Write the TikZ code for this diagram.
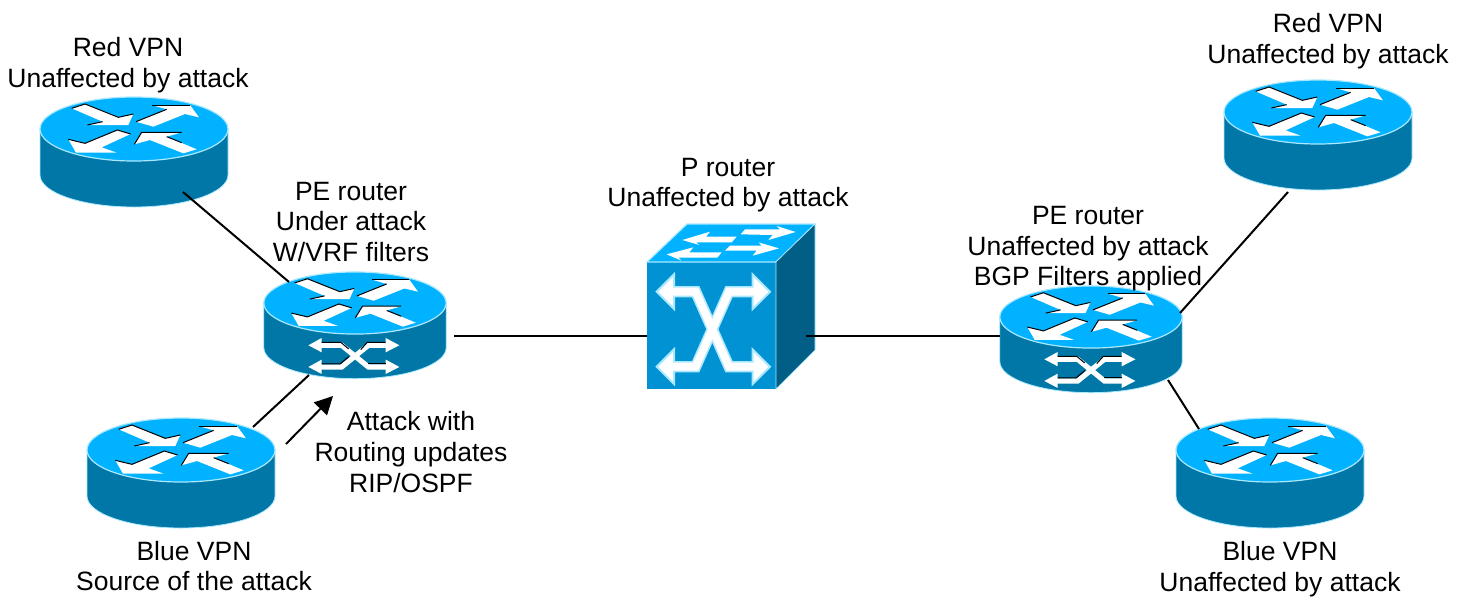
\documentclass[tikz,border=0pt]{standalone}
\usepackage{fontspec}
\setmainfont{Liberation Sans}
\usetikzlibrary{arrows.meta}
\definecolor{rtop}{RGB}{0,178,255}
\definecolor{rside}{RGB}{0,119,166}
\definecolor{sfront}{RGB}{0,146,210}
\definecolor{sright}{RGB}{0,94,135}
\definecolor{pale}{RGB}{170,232,255}
\tikzset{
  lbl/.style={font=\fontsize{13.25}{15.3}\selectfont,align=center,inner sep=0pt,text=black},
  link/.style={draw=black,line width=1pt},
  hit/.style={inner sep=0pt,minimum width=94pt,minimum height=55pt},
  wh/.style={fill=white,draw=none},
  edgeb/.style={draw=black,line width=0.5pt},
}
\newcommand{\routerbase}[3]{%
 \begin{scope}[shift={(#1,#2)},scale=#3]
  \filldraw[fill=rside,draw=pale,line width=0.4pt] (-94,0) -- (-94,46) arc[start angle=180,end angle=0,x radius=94,y radius=32] -- (94,0) -- cycle;
  \filldraw[fill=rtop,draw=pale,line width=0.6pt] (0,0) ellipse [x radius=94,y radius=32];
  \begin{scope}[shift={(-104,-39)},scale=1/3]
   \fill[wh] (125,55) -- (165,42) -- (265,82) -- (310,72) -- (295,105) -- (172,105) -- (218,95) -- cycle;
   \draw[edgeb] (125,55) -- (165,42) -- (265,82) -- (310,72);
   \draw[edgeb] (172,105) -- (218,95);
   \fill[wh] (318,95) -- (410,58) -- (365,45) -- (480,45) -- (507,82) -- (465,72) -- (370,110) -- cycle;
   \draw[edgeb] (318,95) -- (410,58);
   \draw[edgeb] (365,45) -- (480,45);
   \fill[wh] (302,132) -- (262,120) -- (165,160) -- (115,148) -- (138,188) -- (260,188) -- (215,172) -- cycle;
   \draw[edgeb] (302,132) -- (262,120) -- (165,160) -- (115,148);
   \fill[wh] (500,178) -- (410,140) -- (455,127) -- (335,127) -- (313,163) -- (360,150) -- (460,190) -- cycle;
   \draw[edgeb] (455,127) -- (335,127) -- (313,163);
   \draw[edgeb] (410,140) -- (455,158);
  \end{scope}
 \end{scope}}
\newcommand{\routercross}[3]{%
 \begin{scope}[shift={(#1,#2)},scale=#3]
  \begin{scope}[shift={(-118.5,-44.7)},scale=0.3436]
   \draw[white,line width=2.6pt,line join=miter] (240,257) -- (305,257) -- (385,322) -- (440,322);
   \draw[white,line width=2.6pt,line join=miter] (240,322) -- (305,322) -- (385,257) -- (440,257);
   \fill[wh] (205,257) -- (245,235) -- (245,278) -- cycle;
   \fill[wh] (205,322) -- (245,300) -- (245,343) -- cycle;
   \fill[wh] (478,257) -- (437,235) -- (437,278) -- cycle;
   \fill[wh] (478,322) -- (437,300) -- (437,343) -- cycle;
   \draw[edgeb] (245,248) -- (302,248) -- (326,268);
   \draw[edgeb] (245,313) -- (300,313) -- (326,291);
   \draw[edgeb] (362,270) -- (382,248) -- (437,248);
   \draw[edgeb] (385,313) -- (437,313);
  \end{scope}
 \end{scope}}
\begin{document}
\begin{tikzpicture}[x=0.5pt,y=-0.5pt]
\useasboundingbox (0,0) rectangle (1466,596);
% routers
\routerbase{134}{129}{1}
\routerbase{1318}{112}{1}
\routerbase{181}{450}{1}
\routerbase{1270}{450}{1}
\routerbase{355}{303}{0.97}\routercross{355}{303}{0.97}
\routerbase{1091}{317}{0.97}\routercross{1091}{317}{0.97}
% switch
\fill[sfront] (647,262) rectangle (776,389);
\filldraw[fill=rtop,draw=pale,line width=0.6pt] (647,262) -- (687,224) -- (815,224) -- (776,262) -- cycle;
\filldraw[fill=sright,draw=pale,line width=0.3pt] (776,262) -- (815,224) -- (815,350) -- (776,389) -- cycle;
\begin{scope}[shift={(630,210)},scale=1/3]
 \fill[wh] (332,73) -- (345,58) -- (450,58) -- (440,48) -- (497,66) -- (415,90) -- (428,75) -- cycle;
 \fill[wh] (157,90) -- (240,65) -- (228,80) -- (320,80) -- (305,97) -- (198,97) -- (208,105) -- cycle;
 \fill[wh] (285,122) -- (300,107) -- (395,107) -- (385,97) -- (447,115) -- (368,137) -- (380,122) -- cycle;
 \fill[wh] (110,133) -- (190,112) -- (178,127) -- (275,127) -- (262,143) -- (145,143) -- (155,152) -- cycle;
 \draw[pale,line width=5.6pt] (130,245) -- (197,245) -- (297,470) -- (370,470);
 \draw[pale,line width=5.6pt] (130,470) -- (197,470) -- (297,245) -- (370,245);
 \foreach \a/\b/\c in {80/132/245,80/132/470,420/368/245,420/368/470}{
  \filldraw[fill=white,draw=pale,line width=1pt] (\a,\c) -- (\b,\c-52) -- (\b,\c+52) -- cycle;
 }
 \draw[white,line width=4pt] (125,245) -- (197,245) -- (297,470) -- (375,470);
 \draw[white,line width=4pt] (125,470) -- (197,470) -- (297,245) -- (375,245);
\end{scope}
% named nodes (hit areas of the devices)
\node[hit] (redL) at (134,152) {};
\node[hit] (redR) at (1318,135) {};
\node[hit] (blueL) at (181,473) {};
\node[hit] (blueR) at (1270,473) {};
\node[hit] (peL) at (355,325) {};
\node[hit] (peR) at (1091,339) {};
\node[inner sep=0pt,minimum width=84pt,minimum height=82pt] (pr) at (731,306) {};
% connector ends
\coordinate (a1) at (183,192); \coordinate (a2) at (289,282);
\coordinate (b1) at (253,427); \coordinate (b2) at (309,375);
\coordinate (c1) at (454,336); \coordinate (c2) at (647,336);
\coordinate (d1) at (806,336); \coordinate (d2) at (1000,336);
\coordinate (e1) at (1180,313); \coordinate (e2) at (1288,192);
\coordinate (f1) at (1168,380); \coordinate (f2) at (1199,429);
\coordinate (g1) at (286,444); \coordinate (g2) at (333,396);
\draw[link] (a1) -- (a2);
\draw[link] (b1) -- (b2);
\draw[link] (c1) -- (c2);
\draw[link] (d1) -- (d2);
\draw[link] (e1) -- (e2);
\draw[link] (f1) -- (f2);
\draw[draw=black,line width=1pt,-{Triangle[length=9pt,width=9pt]}] (g1) -- (g2);
% labels
\node[lbl] (t1) at (128,65) {Red VPN\\Unaffected by attack};
\node[lbl] (t2) at (1328,41) {Red VPN\\Unaffected by attack};
\node[lbl] (t3) at (351,222) {PE router\\Under attack\\W/VRF filters};
\node[lbl] (t4) at (728,185) {P router\\Unaffected by attack};
\node[lbl] (t5) at (1088,249) {PE router\\Unaffected by attack\\BGP Filters applied};
\node[lbl] (t6) at (411,452) {Attack with\\Routing updates\\RIP/OSPF};
\node[lbl] (t7) at (194,566) {Blue VPN\\Source of the attack};
\node[lbl] (t8) at (1280,569) {Blue VPN\\Unaffected by attack};
\end{tikzpicture}
\end{document}
